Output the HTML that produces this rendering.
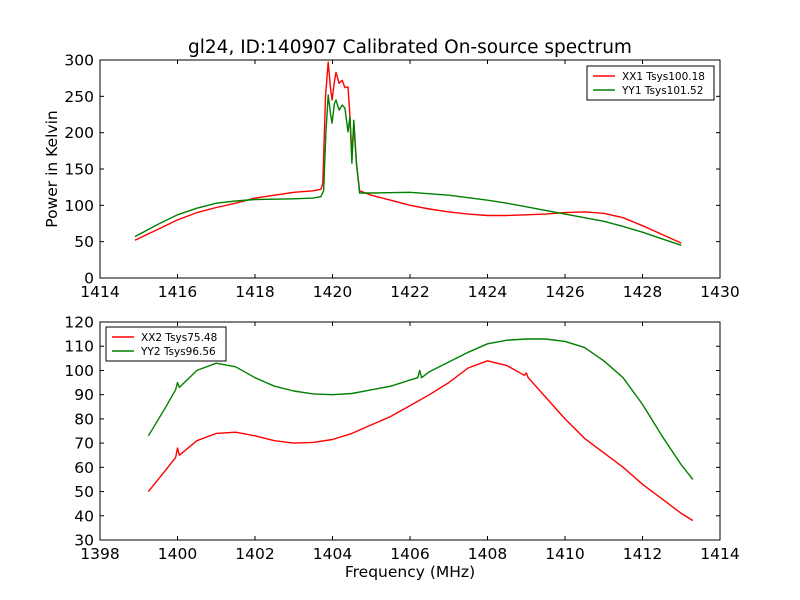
<!DOCTYPE html>
<html><head><meta charset="utf-8"><style>
body{margin:0;background:#fff;}
svg{display:block;font-family:"DejaVu Sans","Liberation Sans",sans-serif;}
</style></head><body>
<svg id="c" width="800" height="600" xmlns="http://www.w3.org/2000/svg"></svg>
<script>
const topXTicks=[1414,1416,1418,1420,1422,1424,1426,1428,1430];
const topYTicks=[0,50,100,150,200,250,300];
const botXTicks=[1398,1400,1402,1404,1406,1408,1410,1412,1414];
const botYTicks=[30,40,50,60,70,80,90,100,110,120];
const xx1Freq=[1414.9,1415.5,1416,1416.5,1417,1417.5,1418,1418.5,1419,1419.5,1419.7,1419.75,1419.82,1419.89,1419.95,1419.99,1420.05,1420.09,1420.17,1420.25,1420.32,1420.4,1420.45,1420.5,1420.55,1420.62,1420.7,1421,1421.5,1422,1422.5,1423,1423.5,1424,1424.5,1425,1425.5,1426,1426.5,1427,1427.5,1428,1428.5,1429];
const xx1Val=[52,67,80,90,97,103,110,114,118,120,122,130,250,297,260,245,270,283,268,272,262,263,224,169,213,156,120,114,107,100,95,91,88,86,86,87,88,90,91,89,83,72,60,48];
const yy1Freq=[1414.9,1415.5,1416,1416.5,1417,1417.5,1418,1418.5,1419,1419.5,1419.7,1419.77,1419.83,1419.89,1419.95,1419.99,1420.05,1420.09,1420.17,1420.25,1420.32,1420.4,1420.45,1420.5,1420.55,1420.62,1420.7,1421,1422,1423,1424,1424.5,1425,1425.5,1426,1426.5,1427,1427.5,1428,1428.5,1429];
const yy1Val=[57,74,87,96,103,106,108,108.5,109,110,112,120,200,252,225,213,240,245,231,238,234,201,222,158,217,158,117,117,118,114,107,103,98,93,88,83,78,71,63,54,45];
const xx2Freq=[1399.25,1399.7,1399.95,1400,1400.05,1400.5,1401,1401.5,1402,1402.5,1403,1403.5,1404,1404.5,1405,1405.5,1406,1406.5,1407,1407.5,1408,1408.5,1408.95,1409,1409.05,1409.5,1410,1410.5,1411,1411.5,1412,1412.5,1413,1413.3];
const xx2Val=[50,59,64,68,65,71,74,74.5,73,71,70,70.3,71.5,74,77.5,81,85.5,90,95,101,104,102,98,99,97,89,80,72,66,60,53,47,41,38];
const yy2Freq=[1399.25,1399.7,1399.95,1400,1400.05,1400.5,1401,1401.5,1402,1402.5,1403,1403.5,1404,1404.5,1405,1405.5,1406,1406.2,1406.25,1406.3,1406.5,1407,1407.5,1408,1408.5,1409,1409.5,1410,1410.5,1411,1411.5,1412,1412.5,1413,1413.3];
const yy2Val=[73,85,92,95,93,100,103,101.5,97,93.5,91.5,90.3,90,90.5,92,93.5,96,97,100,97,99.5,103.5,107.5,111,112.5,113,113,112,109.5,104,97,86,73,61,55];

const S=document.getElementById('c');const NS='http://www.w3.org/2000/svg';
function mk(t,a,p){const e=document.createElementNS(NS,t);for(const k in a)e.setAttribute(k,a[k]);(p||S).appendChild(e);return e;}
function panel(name,x0,x1,y0,y1,xmin,xmax,ymin,ymax,xt,yt){
  const g=mk('g',{});
  
  
  const sx=v=>x0+(v-xmin)/(xmax-xmin)*(x1-x0);
  const sy=v=>y1-(v-ymin)/(ymax-ymin)*(y1-y0);
  xt.forEach(v=>{const X=sx(v);
    mk('line',{x1:X,x2:X,y1:y1,y2:y1-4,stroke:'#000'},g);mk('line',{x1:X,x2:X,y1:y0,y2:y0+4,stroke:'#000'},g);
    const t=mk('text',{x:X,y:y1+19,'text-anchor':'middle','font-size':'15.5'},g);t.textContent=v;
    
    });
  yt.forEach(v=>{const Y=sy(v);
    mk('line',{x1:x0,x2:x0+4,y1:Y,y2:Y,stroke:'#000'},g);mk('line',{x1:x1,x2:x1-4,y1:Y,y2:Y,stroke:'#000'},g);
    const t=mk('text',{x:x0-6,y:Y+5.5,'text-anchor':'end','font-size':'15.5'},g);t.textContent=v;
    
    });
  return {g,sx,sy,box:()=>mk('rect',{x:x0,y:y0,width:x1-x0,height:y1-y0,fill:'none',stroke:'#000'},g)};
}
function line(p,xs,ys,col,name){const d=xs.map((x,i)=>(i?'L':'M')+p.sx(x).toFixed(1)+','+p.sy(ys[i]).toFixed(1)).join('');
  const e=mk('path',{d,fill:'none',stroke:col,'stroke-width':'1.4','stroke-linejoin':'round'},p.g);
  
  }
function legend(p,x,y,w,items){const r=mk('rect',{x,y,width:w,height:34,fill:'#fff',stroke:'#000'},p.g);
  
  
  items.forEach((it,i)=>{const Y=y+10+i*14;mk('line',{x1:x+6,x2:x+28,y1:Y,y2:Y,stroke:it[1],'stroke-width':'1.4'},p.g);
    const t=mk('text',{x:x+35,y:Y+4,'font-size':'10.5'},p.g);t.textContent=it[0];
    
    });}
const p1=panel('top-plot',100,720,60,278,1414,1430,0,300,topXTicks,topYTicks);
line(p1,xx1Freq,xx1Val,'#ff0000','xx1-line');line(p1,yy1Freq,yy1Val,'#008000','yy1-line');
p1.box();legend(p1,587,66,127,[['XX1 Tsys100.18','#ff0000'],['YY1 Tsys101.52','#008000']]);
const p2=panel('bottom-plot',100,720,322,540,1398,1414,30,120,botXTicks,botYTicks);
line(p2,xx2Freq,xx2Val,'#ff0000','xx2-line');line(p2,yy2Freq,yy2Val,'#008000','yy2-line');
p2.box();legend(p2,106,327,120,[['XX2 Tsys75.48','#ff0000'],['YY2 Tsys96.56','#008000']]);
let t=mk('text',{x:410,y:53,'text-anchor':'middle','font-size':'18.5'});t.textContent='gl24, ID:140907 Calibrated On-source spectrum';

t=mk('text',{x:0,y:0,'text-anchor':'middle','font-size':'15.5','transform':'translate(57,169) rotate(-90)'});t.textContent='Power in Kelvin';

t=mk('text',{x:410,y:577,'text-anchor':'middle','font-size':'15.5'});t.textContent='Frequency (MHz)';

</script>
</body></html>
